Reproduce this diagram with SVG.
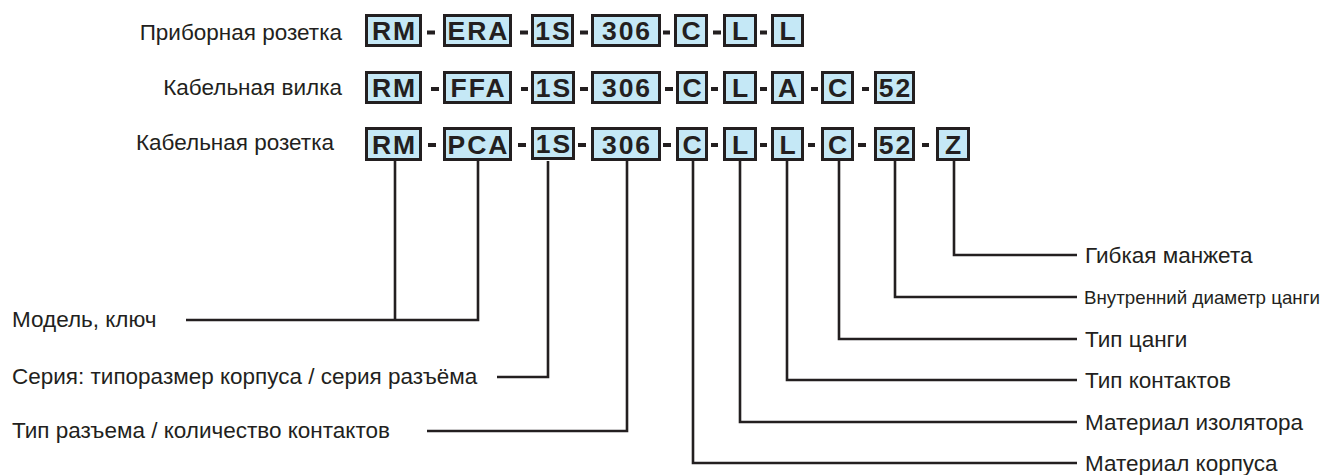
<svg xmlns="http://www.w3.org/2000/svg" width="1331" height="475" viewBox="0 0 1331 475">
<style>
.bg{fill:#ffffff}
.box{fill:#c5e8f6;stroke:#231f20;stroke-width:3}
.code{font-family:"Liberation Sans",Arial,sans-serif;font-weight:bold;font-size:26.5px;letter-spacing:2px;fill:#231f20;text-anchor:middle}
.dash{fill:#231f20}
.lbl{font-family:"Liberation Sans",Arial,sans-serif;font-size:22.5px;fill:#231f20}
.narrow{font-size:19px}
.end{text-anchor:end}
.conn{fill:none;stroke:#231f20;stroke-width:2.6;stroke-linejoin:miter;stroke-linecap:butt}
</style>
<rect class="bg" x="0" y="0" width="1331" height="475"/>

<g id="row1-label"><text class="lbl end" x="342" y="39.5">Приборная розетка</text></g>
<g id="row2-label"><text class="lbl end" x="342" y="94.5">Кабельная вилка</text></g>
<g id="row3-label"><text class="lbl end" x="334" y="149.5">Кабельная розетка</text></g>

<g id="row1">
<g id="r1-RM"><rect class="box" x="366.5" y="15.5" width="54" height="30"/><text class="code" x="394.5" y="40">RM</text></g>
<g id="r1-ERA"><rect class="box" x="444.5" y="15.5" width="66" height="30"/><text class="code" x="478.5" y="40">ERA</text></g>
<g id="r1-1S"><rect class="box" x="532.5" y="15.5" width="40" height="30"/><text class="code" x="553.5" y="40">1S</text></g>
<g id="r1-306"><rect class="box" x="592.5" y="15.5" width="67" height="30"/><text class="code" x="627" y="40">306</text></g>
<g id="r1-C"><rect class="box" x="675.5" y="15.5" width="31" height="30"/><text class="code" x="692" y="40">C</text></g>
<g id="r1-L1"><rect class="box" x="724.5" y="15.5" width="31" height="30"/><text class="code" x="741" y="40">L</text></g>
<g id="r1-L2"><rect class="box" x="772.5" y="15.5" width="30" height="30"/><text class="code" x="788.5" y="40">L</text></g>
<rect class="dash" x="427" y="30.5" width="8" height="4"/>
<rect class="dash" x="520" y="30.5" width="8" height="4"/>
<rect class="dash" x="580" y="30.5" width="8" height="4"/>
<rect class="dash" x="663" y="30.5" width="7" height="4"/>
<rect class="dash" x="713" y="30.5" width="8" height="4"/>
<rect class="dash" x="760" y="30.5" width="7" height="4"/>
</g>

<g id="row2">
<g id="r2-RM"><rect class="box" x="366.5" y="72.5" width="54" height="30"/><text class="code" x="394.5" y="97">RM</text></g>
<g id="r2-FFA"><rect class="box" x="444.5" y="72.5" width="66" height="30"/><text class="code" x="478.5" y="97">FFA</text></g>
<g id="r2-1S"><rect class="box" x="532.5" y="72.5" width="41" height="30"/><text class="code" x="554" y="97">1S</text></g>
<g id="r2-306"><rect class="box" x="592.5" y="72.5" width="67" height="30"/><text class="code" x="627" y="97">306</text></g>
<g id="r2-C1"><rect class="box" x="677.5" y="72.5" width="29" height="30"/><text class="code" x="693" y="97">C</text></g>
<g id="r2-L"><rect class="box" x="724.5" y="72.5" width="31" height="30"/><text class="code" x="741" y="97">L</text></g>
<g id="r2-A"><rect class="box" x="772.5" y="72.5" width="30" height="30"/><text class="code" x="788.5" y="97">A</text></g>
<g id="r2-C2"><rect class="box" x="822.5" y="72.5" width="30" height="30"/><text class="code" x="838.5" y="97">C</text></g>
<g id="r2-52"><rect class="box" x="875.5" y="72.5" width="38" height="30"/><text class="code" x="895.5" y="97">52</text></g>
<rect class="dash" x="431" y="87" width="8" height="4"/>
<rect class="dash" x="521" y="87" width="7" height="4"/>
<rect class="dash" x="580" y="87" width="8" height="4"/>
<rect class="dash" x="665" y="87" width="8" height="4"/>
<rect class="dash" x="711" y="87" width="7" height="4"/>
<rect class="dash" x="760" y="87" width="7" height="4"/>
<rect class="dash" x="811" y="87" width="7" height="4"/>
<rect class="dash" x="862" y="87" width="7" height="4"/>
</g>

<g id="row3">
<g id="r3-RM"><rect class="box" x="366.5" y="128.5" width="54" height="31"/><text class="code" x="394.5" y="153.5">RM</text></g>
<g id="r3-PCA"><rect class="box" x="444.5" y="128.5" width="66" height="31"/><text class="code" x="478.5" y="153.5">PCA</text></g>
<g id="r3-1S"><rect class="box" x="532.5" y="128.5" width="41" height="30"/><text class="code" x="554" y="153">1S</text></g>
<g id="r3-306"><rect class="box" x="592.5" y="128.5" width="67" height="31"/><text class="code" x="627" y="153.5">306</text></g>
<g id="r3-C1"><rect class="box" x="677.5" y="128.5" width="29" height="31"/><text class="code" x="693" y="153.5">C</text></g>
<g id="r3-L1"><rect class="box" x="724.5" y="128.5" width="31" height="31"/><text class="code" x="741" y="153.5">L</text></g>
<g id="r3-L2"><rect class="box" x="772.5" y="128.5" width="30" height="31"/><text class="code" x="788.5" y="153.5">L</text></g>
<g id="r3-C2"><rect class="box" x="822.5" y="128.5" width="30" height="31"/><text class="code" x="838.5" y="153.5">C</text></g>
<g id="r3-52"><rect class="box" x="875.5" y="128.5" width="38" height="31"/><text class="code" x="895.5" y="153.5">52</text></g>
<g id="r3-Z"><rect class="box" x="937.5" y="128.5" width="31" height="31"/><text class="code" x="954" y="153.5">Z</text></g>
<rect class="dash" x="428" y="143" width="8" height="4"/>
<rect class="dash" x="518" y="143" width="8" height="4"/>
<rect class="dash" x="578" y="143" width="8" height="4"/>
<rect class="dash" x="663" y="143" width="8" height="4"/>
<rect class="dash" x="711" y="143" width="7" height="4"/>
<rect class="dash" x="760" y="143" width="7" height="4"/>
<rect class="dash" x="808" y="143" width="7" height="4"/>
<rect class="dash" x="858" y="143" width="8" height="4"/>
<rect class="dash" x="922" y="143" width="7" height="4"/>
</g>

<g id="connectors">
<path class="conn" d="M395,161 V320"/>
<path class="conn" d="M478,161 V320 H186"/>
<path class="conn" d="M548,161 V377 H497"/>
<path class="conn" d="M627,161 V431 H427"/>
<path class="conn" d="M693,161 V463 H1077"/>
<path class="conn" d="M740,161 V422 H1077"/>
<path class="conn" d="M787,161 V380 H1077"/>
<path class="conn" d="M839,161 V339 H1077"/>
<path class="conn" d="M895,161 V297 H1077"/>
<path class="conn" d="M954,161 V255 H1077"/>
</g>

<g id="label-model"><text class="lbl" x="12" y="327">Модель, ключ</text></g>
<g id="label-series"><text class="lbl" x="12" y="384">Серия: типоразмер корпуса / серия разъёма</text></g>
<g id="label-type"><text class="lbl" x="12" y="438">Тип разъема / количество контактов</text></g>

<g id="label-cuff"><text class="lbl" x="1085" y="263">Гибкая манжета</text></g>
<g id="label-diam"><text class="lbl narrow" x="1084" y="304" textLength="236" lengthAdjust="spacingAndGlyphs">Внутренний диаметр цанги</text></g>
<g id="label-collet"><text class="lbl" x="1085" y="347">Тип цанги</text></g>
<g id="label-contacts"><text class="lbl" x="1085" y="388">Тип контактов</text></g>
<g id="label-insul"><text class="lbl" x="1085" y="430">Материал изолятора</text></g>
<g id="label-body"><text class="lbl" x="1085" y="471">Материал корпуса</text></g>
</svg>
